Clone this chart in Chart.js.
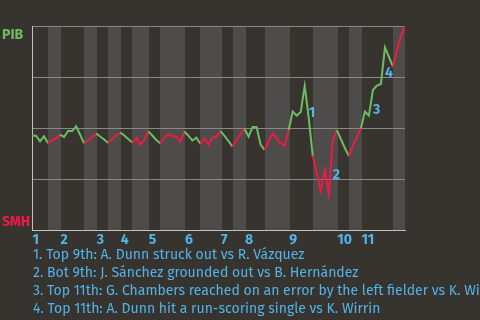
<!DOCTYPE html>
<html>
<head>
<meta charset="utf-8">
<script src="https://cdn.jsdelivr.net/npm/chart.js@4"></script>
<style>
  html, body { margin: 0; padding: 0; background: #373430; overflow: hidden; }
  #wrap { width: 480px; height: 320px; }
</style>
</head>
<body>
<div id="wrap"><canvas id="wp" width="480" height="320"></canvas></div>
<script>
// Win probability for PIB after each play (play 0 = first pitch).
const winProb = [
  0.462, 0.462, 0.435, 0.459, 0.425,               // top 1
  0.439, 0.449, 0.468,                             // bot 1
  0.456, 0.485, 0.485, 0.508, 0.467, 0.425,        // top 2
  0.441, 0.456, 0.473,                             // bot 2
  0.458, 0.444, 0.426,                             // top 3
  0.446, 0.463, 0.478,                             // bot 3
  0.463, 0.446, 0.429,                             // top 4
  0.451, 0.419, 0.441, 0.483,                      // bot 4
  0.463, 0.441, 0.424,                             // top 5
  0.451, 0.471, 0.461, 0.456, 0.434, 0.483,        // bot 5
  0.461, 0.439, 0.453, 0.422,                      // top 6
  0.449, 0.417, 0.453, 0.458, 0.485,               // bot 6
  0.461, 0.436, 0.409,                             // top 7
  0.441, 0.471, 0.495,                             // bot 7
  0.458, 0.505, 0.505, 0.419, 0.392,               // top 8
  0.436, 0.473, 0.451, 0.424, 0.414, 0.490,        // bot 8
  0.581, 0.561, 0.578, 0.706, 0.549, 0.363,        // top 9
  0.279, 0.191, 0.294, 0.172, 0.441, 0.490,        // bot 9
  0.446, 0.402, 0.363,                             // top 10
  0.412, 0.456, 0.498,                             // bot 10
  0.581, 0.561, 0.686, 0.708, 0.716, 0.895, 0.848, 0.801, // top 11
  0.882, 0.951, 1.000                              // bot 11
];

// Play number that closes each half-inning (top 1, bot 1, top 2, ...).
const halfInningEnds = [4, 7, 13, 16, 19, 22, 25, 29, 32, 38, 42, 47, 50, 53, 58, 64, 70, 76, 79, 82, 90, 93];

const inningLabels = ['1', '2', '3', '4', '5', '6', '7', '8', '9', '10', '11'];
const awayTeam = 'PIB';
const homeTeam = 'SMH';

// Key plays marked on the line.
const notePlays = [69, 75, 85, 88];
const noteTexts = [
  '1. Top 9th: A. Dunn struck out vs R. Vázquez',
  '2. Bot 9th: J. Sánchez grounded out vs B. Hernández',
  '3. Top 11th: G. Chambers reached on an error by the left fielder vs K. Wirrin',
  '4. Top 11th: A. Dunn hit a run-scoring single vs K. Wirrin'
];

const GREEN = '#6cbd5f';
const RED = '#ee1a43';
const BLUE = '#52b3e6';
const BG = '#373430';
const BAND = '#4e4c4a';
const FONT = '"Fira Sans", "Noto Sans", sans-serif';

// Vertical placement of the marker numbers (in win-probability units).
const noteLabelLevel = [0.574, 0.27, 0.588, 0.77];

function halfOf(play) {
  for (let k = 0; k < halfInningEnds.length; k++) {
    if (play <= halfInningEnds[k]) return k;
  }
  return halfInningEnds.length - 1;
}

const decor = {
  id: 'decor',
  beforeDraw(chart) {
    const { ctx, chartArea: a, scales: { x } } = chart;
    ctx.save();
    ctx.fillStyle = BG;
    ctx.fillRect(0, 0, chart.width, chart.height);
    ctx.fillStyle = BAND;
    for (let k = 1; k < halfInningEnds.length; k += 2) {
      const x0 = Math.round(x.getPixelForValue(halfInningEnds[k - 1]));
      const x1 = Math.min(Math.round(x.getPixelForValue(halfInningEnds[k])) + 1, a.right);
      ctx.fillRect(x0, a.top, x1 - x0, a.bottom - a.top);
    }
    ctx.restore();
  },
  afterDraw(chart) {
    const { ctx, chartArea: a, scales: { x, y } } = chart;
    ctx.save();
    ctx.textAlign = 'left';
    ctx.textBaseline = 'alphabetic';

    // team labels at the ends of the probability axis
    ctx.font = 'bold 14px ' + FONT;
    ctx.fillStyle = GREEN;
    ctx.fillText(awayTeam, 2, y.getPixelForValue(1) + 12.5);
    ctx.fillStyle = RED;
    ctx.fillText(homeTeam, 2, y.getPixelForValue(0) - 4);

    // inning numbers at the start of each top half
    ctx.fillStyle = BLUE;
    inningLabels.forEach((lab, i) => {
      const start = i === 0 ? 0 : halfInningEnds[2 * i - 1];
      ctx.fillText(lab, x.getPixelForValue(start) + 0.5, a.bottom + 13.5);
    });

    // markers for the key plays
    ctx.font = 'bold 14px ' + FONT;
    ctx.textBaseline = 'middle';
    notePlays.forEach((p, i) => {
      ctx.fillText(String(i + 1), x.getPixelForValue(p), y.getPixelForValue(noteLabelLevel[i]));
    });

    // descriptions below the chart
    ctx.font = '14px ' + FONT;
    ctx.textBaseline = 'alphabetic';
    noteTexts.forEach((t, i) => {
      ctx.fillText(t, 33, a.bottom + 29 + i * 18);
    });
    ctx.restore();
  }
};

new Chart(document.getElementById('wp'), {
  type: 'line',
  data: {
    datasets: [{
      data: winProb.map((v, i) => ({ x: i, y: v })),
      borderWidth: 2,
      pointRadius: 0,
      tension: 0,
      fill: false,
      borderColor: GREEN,
      segment: {
        borderColor: c => (halfOf(c.p1DataIndex) % 2 === 0 ? GREEN : RED)
      }
    }]
  },
  options: {
    responsive: false,
    animation: false,
    devicePixelRatio: 1,
    layout: { padding: { left: 32, top: 26, right: 75, bottom: 90 } },
    plugins: { legend: { display: false }, tooltip: { enabled: false } },
    scales: {
      x: {
        type: 'linear',
        min: 0,
        max: halfInningEnds[halfInningEnds.length - 1],
        ticks: { display: false },
        grid: { display: false, drawTicks: false },
        border: { display: true, color: '#c4c2bf', width: 1 }
      },
      y: {
        min: 0,
        max: 1,
        ticks: { display: false, stepSize: 0.25 },
        grid: { color: '#8a8885', lineWidth: 1, drawTicks: false },
        border: { display: true, color: '#c4c2bf', width: 1 }
      }
    }
  },
  plugins: [decor]
});
</script>
</body>
</html>
